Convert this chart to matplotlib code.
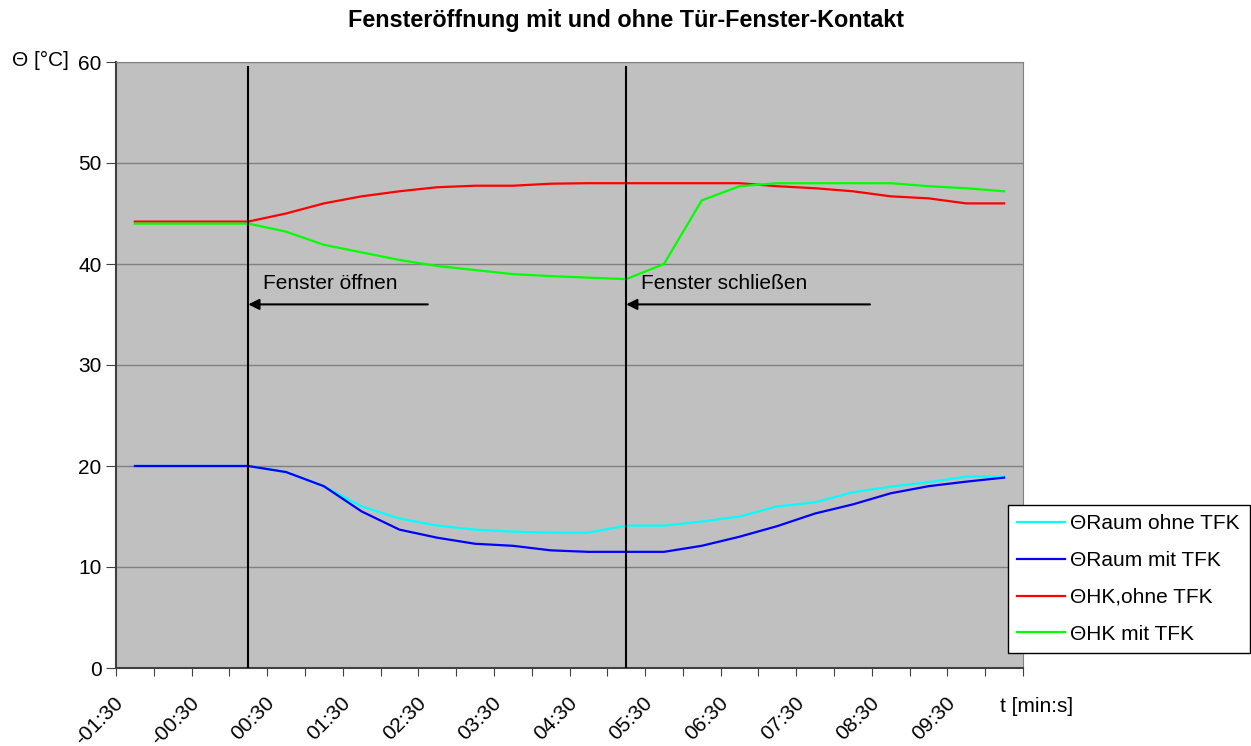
import numpy as np
import matplotlib.pyplot as plt
from matplotlib.transforms import offset_copy

plt.rcParams['font.family'] = ['Liberation Sans', 'DejaVu Sans']

## Daten (30-s-Raster, -01:30 ... 10:00)
zeit = ['-01:30', '-01:00', '-00:30', '00:00', '00:30', '01:00', '01:30', '02:00',
        '02:30', '03:00', '03:30', '04:00', '04:30', '05:00', '05:30', '06:00',
        '06:30', '07:00', '07:30', '08:00', '08:30', '09:00', '09:30', '10:00']

raum_ohne = [20.0, 20.0, 20.0, 20.0, 19.4, 18.0, 16.0, 14.8, 14.1, 13.7, 13.5, 13.4,
             13.4, 14.1, 14.1, 14.5, 15.0, 16.0, 16.4, 17.4, 17.95, 18.4, 18.95, 18.95]
raum_mit = [20.0, 20.0, 20.0, 20.0, 19.4, 18.0, 15.5, 13.7, 12.9, 12.3, 12.1, 11.65,
            11.5, 11.5, 11.5, 12.1, 13.0, 14.05, 15.3, 16.2, 17.3, 18.0, 18.45, 18.85]
hk_ohne = [44.2, 44.2, 44.2, 44.2, 45.0, 46.0, 46.7, 47.2, 47.6, 47.75, 47.75, 47.95,
           48.0, 48.0, 48.0, 48.0, 48.0, 47.7, 47.5, 47.2, 46.7, 46.5, 46.0, 46.0]
hk_mit = [44.0, 44.0, 44.0, 44.0, 43.2, 41.9, 41.15, 40.4, 39.8, 39.4, 39.0, 38.8,
          38.65, 38.5, 40.0, 46.3, 47.7, 48.0, 48.0, 48.0, 48.0, 47.7, 47.5, 47.2]

labels = ['\u0398Raum ohne TFK', '\u0398Raum mit TFK', '\u0398HK,ohne TFK', '\u0398HK mit TFK']
farben = ['#00FFFF', '#0000FF', '#FF0000', '#00FF00']

x = np.arange(len(zeit))
fs = 15

fig = plt.figure(figsize=(12.51, 7.46), dpi=100)
ax = fig.add_axes([116 / 1251, 1 - 668 / 746, 907 / 1251, 606 / 746])
ax.set_facecolor('#C0C0C0')

for serie, lab, col in zip([raum_ohne, raum_mit, hk_ohne, hk_mit], labels, farben):
    ax.plot(x, serie, color=col, lw=1.6, label=lab, zorder=3)

# Fenster auf / zu
for pos in [3, 13]:
    ax.plot([pos, pos], [0, 59.5], color='black', lw=1.5, zorder=4)
pfeil = dict(arrowstyle='-|>', color='black', lw=1.5, mutation_scale=16, shrinkA=0, shrinkB=0)
ax.annotate('', xy=(3, 36), xytext=(7.75, 36), arrowprops=pfeil, zorder=5)
ax.annotate('', xy=(13, 36), xytext=(19.45, 36), arrowprops=pfeil, zorder=5)
ax.text(3.4, 37.5, 'Fenster öffnen', fontsize=fs, va='baseline', ha='left')
ax.text(13.4, 37.5, 'Fenster schließen', fontsize=fs, va='baseline', ha='left')

ax.set_yticks(np.arange(0, 61, 10))
ax.yaxis.grid(True, color='#808080', lw=1)
ax.set_axisbelow(True)

# Kategorieachse: Striche zwischen den Kategorien, Beschriftung jede zweite
ax.set_xticks(np.arange(-0.5, len(zeit), 1.0))
ax.set_xticklabels([])
ax.tick_params(axis='x', length=6, color='#404040')
ax.tick_params(axis='y', length=7, labelsize=fs, color='#404040')
ax.set_xlim(-0.5, len(zeit) - 0.5)
ax.set_ylim(0, 60)

trans = offset_copy(ax.get_xaxis_transform(), fig=fig, x=-21, y=-25, units='dots')
for i in x[::2]:
    ax.text(i, 0, zeit[i], transform=trans, rotation=45, ha='right', va='top',
            rotation_mode='anchor', fontsize=fs, clip_on=False)

for s in ['left', 'bottom']:
    ax.spines[s].set_color('#404040')
    ax.spines[s].set_linewidth(1.5)
for s in ['top', 'right']:
    ax.spines[s].set_color('#808080')

fig.text(0.5, 1 - 21 / 746, 'Fensteröffnung mit und ohne Tür-Fenster-Kontakt',
         ha='center', va='center', fontsize=16.8, fontweight='bold')
fig.text(12 / 1251, 1 - 60 / 746, '\u0398 [°C]', fontsize=fs, ha='left', va='center')
fig.text(1000 / 1251, 1 - 707 / 746, 't [min:s]', fontsize=fs, ha='left', va='center')

leg = ax.legend(loc='upper left', bbox_to_anchor=(1008 / 1251, 1 - 505 / 746),
                bbox_transform=fig.transFigure, fontsize=fs, frameon=True, fancybox=False,
                borderaxespad=0, handlelength=2.3, labelspacing=0.85, borderpad=0.45,
                handletextpad=0.25)
leg.get_frame().set_edgecolor('black')
leg.get_frame().set_linewidth(1)
leg.get_frame().set_alpha(1)
leg.set_zorder(10)

fig.savefig('out.png', dpi=100)
